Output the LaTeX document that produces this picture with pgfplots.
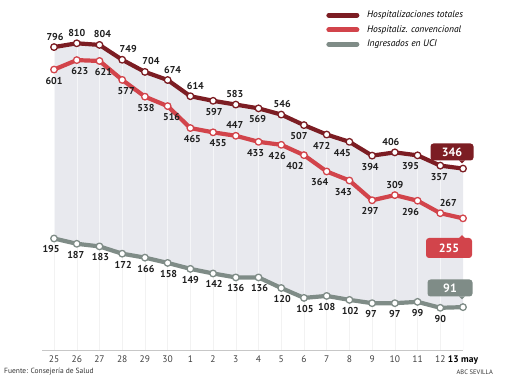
\documentclass[border=0pt]{standalone}
\usepackage{fontspec}
\setmainfont{PT Sans}
\usepackage{pgfplots}
\pgfplotsset{compat=1.18}
\usepackage{pgfplotstable}
\usepgfplotslibrary{fillbetween}
\definecolor{darkc}{HTML}{7C1D23}
\definecolor{redc}{HTML}{D2444B}
\definecolor{grayc}{HTML}{7F8C87}
\definecolor{fillc}{HTML}{E8E9EE}

% value labels: \la{value}{dx} above the point, \lb{value}{dx} below it, \lnone no label
\protected\def\la#1#2{\makebox[0pt]{\kern#2pt\kern#2pt\raisebox{7pt}[0pt][0pt]{#1}}}
\protected\def\lb#1#2{\makebox[0pt]{\kern#2pt\kern#2pt\raisebox{-14.5pt}[0pt][0pt]{#1}}}
\protected\def\lnone{}

% x = day index (0 = 25 abr ... 18 = 13 may), v = value
\pgfplotstableread{
x v lab
0 796 \la{796}{1}
1 810 \la{810}{0}
2 804 \la{804}{3}
3 749 \la{749}{6}
4 704 \la{704}{6}
5 674 \la{674}{5}
6 614 \la{614}{5}
7 597 \lb{597}{1}
8 583 \la{583}{-1}
9 569 \lb{569}{-1}
10 546 \la{546}{1}
11 507 \lb{507}{-5}
12 472 \lb{472}{-5}
13 445 \lb{445}{-7}
14 394 \lb{394}{-2}
15 406 \la{406}{-4}
16 395 \lb{395}{-7}
17 357 \lb{357}{-1}
18 346 \lnone
}\tbldark

\pgfplotstableread{
x v lab
0 601 \lb{601}{0}
1 623 \lb{623}{3}
2 621 \lb{621}{4}
3 577 \lb{577}{4}
4 538 \lb{538}{1}
5 516 \lb{516}{4}
6 465 \lb{465}{2}
7 455 \lb{455}{5}
8 447 \la{447}{-1}
9 433 \lb{433}{-3}
10 426 \lb{426}{-4}
11 402 \lb{402}{-9}
12 364 \lb{364}{-7}
13 343 \lb{343}{-6}
14 297 \lb{297}{-2}
15 309 \la{309}{0}
16 296 \lb{296}{-7}
17 267 \la{267}{8}
18 255 \lnone
}\tblred

\pgfplotstableread{
x v lab
0 195 \lb{195}{-3}
1 187 \lb{187}{-1}
2 183 \lb{183}{1}
3 172 \lb{172}{1}
4 166 \lb{166}{1}
5 158 \lb{158}{1}
6 149 \lb{149}{0}
7 142 \lb{142}{1}
8 136 \lb{136}{0}
9 136 \lb{136}{1}
10 120 \lb{120}{1}
11 105 \lb{105}{1}
12 108 \lb{108}{0}
13 102 \lb{102}{1}
14 97 \lb{97}{-1}
15 97 \lb{97}{0}
16 99 \lb{99}{0}
17 90 \lb{90}{0}
18 91 \lnone
}\tblgray

\pgfplotsset{
  base/.style={scale only axis, width=421pt, height=310pt, at={(42pt,40pt)}, anchor=south west, xmin=-0.53, xmax=18},
  ser/.style={line width=4.2pt, color=#1, line join=round, mark=*, mark size=3.3pt,
    mark options={fill=white, draw=#1, line width=1.3pt, solid}},
  lab/.style={point meta=explicit symbolic,
    nodes near coords={\pgfplotspointmeta},
    nodes near coords style={anchor=center, inner sep=0pt, font=\bfseries\fontsize{10}{10}\selectfont, text=black!88}},
}

\begin{document}
\begin{tikzpicture}

% shaded area under total hospitalizations
\begin{axis}[base, hide axis, ymin=-325.9, ymax=822.2]
\addplot[name path=dk, draw=none] table[x=x,y=v]{\tbldark};
\path[name path=dkb] (axis cs:0,-2000) -- (axis cs:18,-2000);
\addplot[fillc] fill between[of=dk and dkb];
\addplot[white, opacity=0.6, line width=0.9pt, only marks, mark=none,
  error bars/.cd, y dir=minus, y fixed=3000, error mark=none] table[x=x,y=v]{\tbldark};
\end{axis}

% white area under UCI line
\begin{axis}[base, hide axis, ymin=26.06, ymax=495.76]
\addplot[name path=gr, draw=none] table[x=x,y=v]{\tblgray};
\path[name path=grb] (axis cs:0,-2000) -- (axis cs:18,-2000);
\addplot[white] fill between[of=gr and grb];
\addplot[black!5, line width=0.9pt, only marks, mark=none,
  error bars/.cd, y dir=minus, y fixed=3000, error mark=none] table[x=x,y=v]{\tblgray};
\end{axis}

% UCI
\begin{axis}[base, hide axis, clip=false, ymin=26.06, ymax=495.76]
\addplot[ser=grayc, lab] table[x=x,y=v,meta=lab]{\tblgray};
\end{axis}

% conventional
\begin{axis}[base, hide axis, clip=false, ymin=-51.16, ymax=669.77]
\addplot[ser=redc, lab] table[x=x,y=v,meta=lab]{\tblred};
\end{axis}

% totals + x axis + legend
\begin{axis}[base, clip=false, ymin=-325.9, ymax=822.2,
  axis x line*=bottom, axis y line=none,
  x axis line style={-, draw=black!22, line width=0.9pt},
  xtick={0,...,18},
  xticklabels={25,26,27,28,29,30,1,2,3,4,5,6,7,8,9,10,11,12,{\textbf{\color{black}13 may}}},
  major tick length=0pt,
  xticklabel style={font=\fontsize{9.5}{10}\selectfont, text=black!75, yshift=-2pt},
  legend image code/.code={\draw[#1, line width=5pt, line cap=round] (0pt,0pt) -- (28pt,0pt); \path (36pt,0pt);},
  legend style={at={(axis description cs:0.675,1.103)}, anchor=north west, draw=none, fill=none,
    inner sep=0pt, font=\itshape\fontsize{9.5}{12}\selectfont, row sep=0.5pt,
    nodes={inner sep=2pt, text height=7.5pt, text depth=2.5pt}},
  legend cell align=left,
]
\addplot[ser=darkc, lab, forget plot] table[x=x,y=v,meta=lab]{\tbldark};
\addlegendimage{darkc}
\addlegendentry{Hospitalizaciones totales}
\addlegendimage{redc}
\addlegendentry{Hospitaliz. convencional}
\addlegendimage{grayc}
\addlegendentry{Ingresados en UCI}
\end{axis}

% end-value boxes
\node[fill=darkc, text=white, font=\bfseries\fontsize{12}{12}\selectfont, rounded corners=3pt,
  minimum width=43pt, minimum height=17pt, inner sep=0pt] at (452pt,238pt) {346};
\fill[darkc] (459pt,229.7pt) -- (465pt,229.7pt) -- (462pt,226.5pt) -- cycle;
\node[fill=redc, text=white, font=\bfseries\fontsize{12}{12}\selectfont, rounded corners=3pt,
  minimum width=46pt, minimum height=20pt, inner sep=0pt] at (449pt,142pt) {255};
\fill[redc] (459pt,151.8pt) -- (465pt,151.8pt) -- (462pt,155pt) -- cycle;
\node[fill=grayc, text=white, font=\bfseries\fontsize{12}{12}\selectfont, rounded corners=3pt,
  minimum width=45pt, minimum height=17pt, inner sep=0pt] at (450pt,102pt) {91};
\fill[grayc] (459pt,93.7pt) -- (465pt,93.7pt) -- (462pt,90.5pt) -- cycle;

% footer
\node[anchor=west, font=\fontsize{7.5}{8}\selectfont, text=black!80, inner sep=0pt] at (4pt,18pt) {Fuente: Consejería de Salud};
\node[anchor=east, font=\fontsize{6.5}{7}\selectfont, text=black!80, inner sep=0pt] at (493pt,18pt) {ABC SEVILLA};

\pgfresetboundingbox
\path[use as bounding box] (0,0) rectangle (510pt,390pt);
\end{tikzpicture}
\end{document}
